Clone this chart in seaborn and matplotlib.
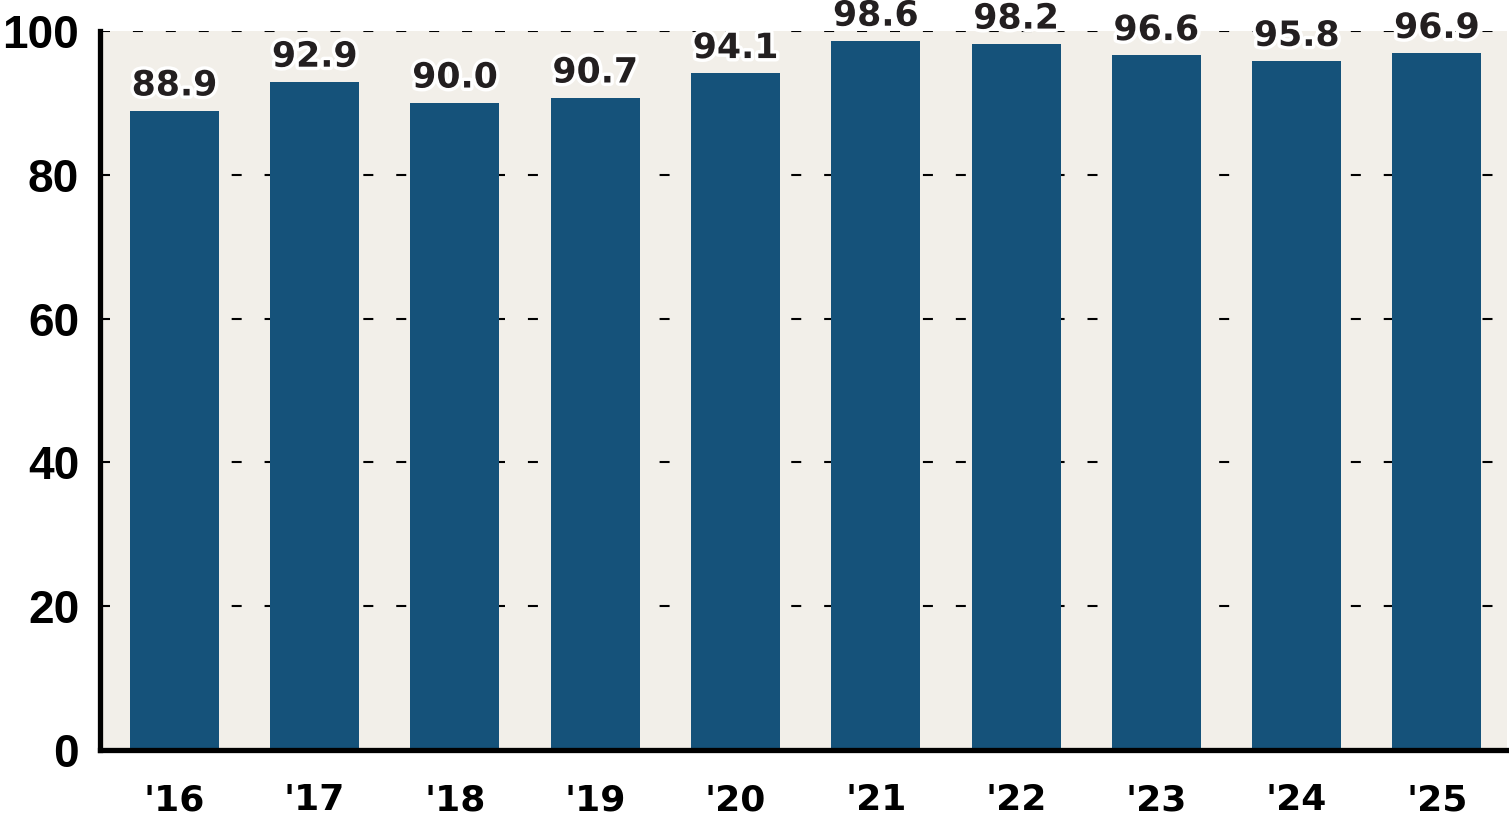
import matplotlib.pyplot as plt
import matplotlib.patheffects as pe
import seaborn as sns
import pandas as pd

years = ["'16", "'17", "'18", "'19", "'20", "'21", "'22", "'23", "'24", "'25"]
values = [88.9, 92.9, 90.0, 90.7, 94.1, 98.6, 98.2, 96.6, 95.8, 96.9]
yticks = [0, 20, 40, 60, 80, 100]

df = pd.DataFrame({"year": years, "value": values})

sns.set_style("white")
fig = plt.figure(figsize=(15.09, 8.15), dpi=100)
ax = fig.add_axes([0.0663, 0.0798, 0.9324, 0.8822])
ax.set_facecolor("#f2efe9")

sns.barplot(df, x="year", y="value", color="#15527a", saturation=1, width=0.634,
            linewidth=0, ax=ax)

ax.set_xlim(-0.53, 9.5)
ax.set_ylim(0, 100)
ax.set_yticks(yticks)
ax.set_axisbelow(True)
ax.yaxis.grid(True, color="black", linewidth=1.5, linestyle=(0, (4.8, 11)))
ax.xaxis.grid(False)

for s in ["top", "right"]:
    ax.spines[s].set_visible(False)
for s in ["left", "bottom"]:
    ax.spines[s].set_color("black")
    ax.spines[s].set_linewidth(3.8)

ax.tick_params(axis="both", length=0, colors="black")
ax.tick_params(axis="y", pad=15)
ax.tick_params(axis="x", pad=24)
for t in ax.get_yticklabels():
    t.set_fontfamily("Liberation Sans")
    t.set_fontweight("bold")
    t.set_fontsize(33)
for t in ax.get_xticklabels():
    t.set_fontfamily("DejaVu Sans")
    t.set_fontweight("bold")
    t.set_fontsize(26)
ax.set_xlabel("")
ax.set_ylabel("")

labels = ax.bar_label(ax.containers[0], fmt="%.1f", padding=6, fontsize=25,
                      fontweight="bold", color="#231f20")
for lab in labels:
    lab.set_path_effects([pe.withStroke(linewidth=5, foreground="white")])
    lab.set_clip_on(False)

fig.savefig("out.png", dpi=100)
